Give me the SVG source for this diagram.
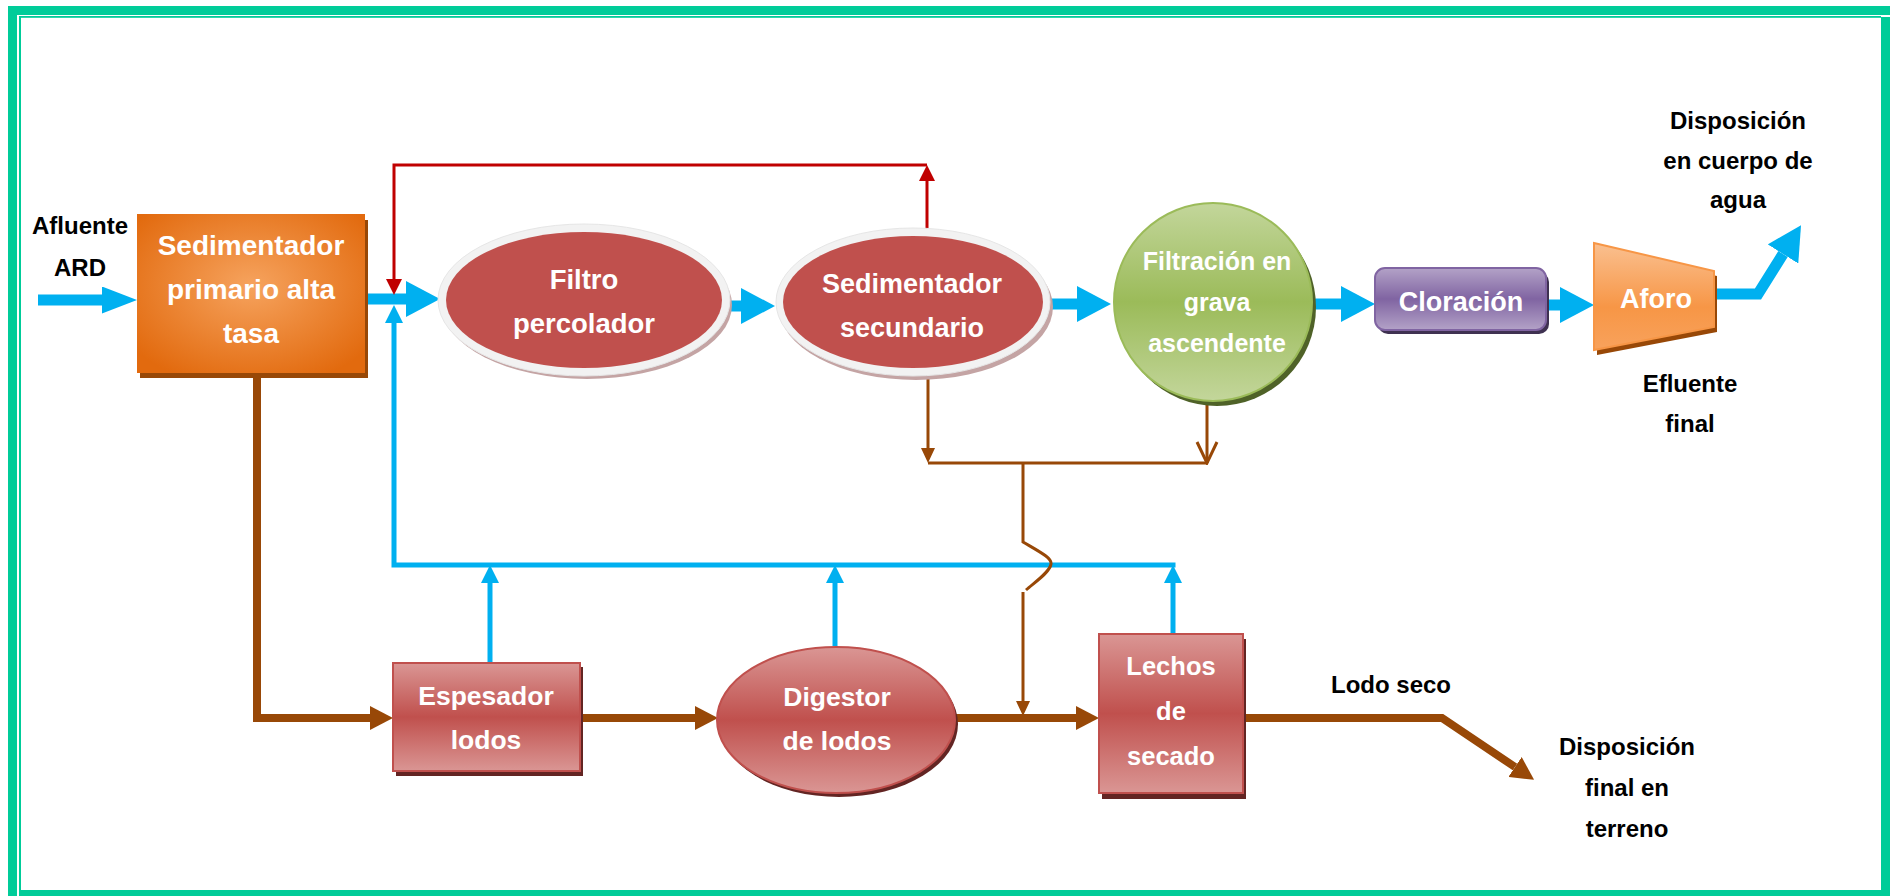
<svg xmlns="http://www.w3.org/2000/svg" width="1890" height="896" viewBox="0 0 1890 896">
<style>
  .w { fill:#FFFFFF; font-family:"Liberation Sans", Arial, sans-serif; font-weight:bold; text-anchor:middle; font-size:27px; }
  .b { fill:#000000; font-family:"Liberation Sans", Arial, sans-serif; font-weight:bold; text-anchor:middle; font-size:24px; }
  .frame { fill:#00CC99; }
  .blue { fill:none; stroke:#00B0F0; stroke-width:11; stroke-linejoin:miter; }
  .blueThin { fill:none; stroke:#00B0F0; stroke-width:5; stroke-linejoin:miter; }
  .red { fill:none; stroke:#C00000; stroke-width:3; stroke-linejoin:miter; }
  .brown { fill:none; stroke:#984807; stroke-width:8; stroke-linejoin:miter; }
  .brownThin { fill:none; stroke:#984807; stroke-width:3; stroke-linejoin:miter; }
  .redbox { fill:url(#gRed); stroke:#C0504D; stroke-width:2; }
  .redshadow { fill:#632523; }
  .rim { fill:#F2F2F2; stroke:#E6E6E6; stroke-width:1; }
  .rimshadow { fill:#C4A4A4; }
  .core { fill:#C0504D; }
</style>
<defs>
  <radialGradient id="gOrange" cx="50%" cy="45%" r="65%">
    <stop offset="0" stop-color="#F6A35E"/>
    <stop offset="1" stop-color="#E26A0E"/>
  </radialGradient>
  <linearGradient id="gRed" x1="0" y1="0" x2="0" y2="1">
    <stop offset="0" stop-color="#DA9694"/>
    <stop offset="0.5" stop-color="#C0504D"/>
    <stop offset="1" stop-color="#DA9694"/>
  </linearGradient>
  <linearGradient id="gPurple" x1="0" y1="0" x2="0" y2="1">
    <stop offset="0" stop-color="#B3A2C7"/>
    <stop offset="0.5" stop-color="#8064A2"/>
    <stop offset="1" stop-color="#B3A2C7"/>
  </linearGradient>
  <linearGradient id="gGreen" x1="0" y1="0" x2="0" y2="1">
    <stop offset="0" stop-color="#C3D69B"/>
    <stop offset="0.5" stop-color="#9BBB59"/>
    <stop offset="1" stop-color="#C3D69B"/>
  </linearGradient>
  <linearGradient id="gAforo" x1="0" y1="0" x2="0" y2="1">
    <stop offset="0" stop-color="#FAC090"/>
    <stop offset="0.6" stop-color="#F79646"/>
    <stop offset="1" stop-color="#F8A25C"/>
  </linearGradient>
  <marker id="mBlue" markerUnits="userSpaceOnUse" markerWidth="34" markerHeight="36" refX="0" refY="18" orient="auto" viewBox="0 0 34 36">
    <path d="M0,0 L34,18 L0,36 z" fill="#00B0F0"/>
  </marker>
  <marker id="mBlueS" markerUnits="userSpaceOnUse" markerWidth="35" markerHeight="27" refX="0" refY="13.5" orient="auto" viewBox="0 0 35 27">
    <path d="M0,0 L35,13.5 L0,27 z" fill="#00B0F0"/>
  </marker>
  <marker id="mBlueUp" markerUnits="userSpaceOnUse" markerWidth="18" markerHeight="18" refX="0" refY="9" orient="auto" viewBox="0 0 18 18">
    <path d="M0,0 L18,9 L0,18 z" fill="#00B0F0"/>
  </marker>
  <marker id="mRed" markerUnits="userSpaceOnUse" markerWidth="16" markerHeight="16" refX="0" refY="8" orient="auto" viewBox="0 0 16 16">
    <path d="M0,0 L16,8 L0,16 z" fill="#C00000"/>
  </marker>
  <marker id="mBrown" markerUnits="userSpaceOnUse" markerWidth="23" markerHeight="24" refX="0" refY="12" orient="auto" viewBox="0 0 23 24">
    <path d="M0,0 L23,12 L0,24 z" fill="#984807"/>
  </marker>
  <marker id="mBrownSm" markerUnits="userSpaceOnUse" markerWidth="15" markerHeight="14" refX="0" refY="7" orient="auto" viewBox="0 0 15 14">
    <path d="M0,0 L15,7 L0,14 z" fill="#984807"/>
  </marker>
  <marker id="mBrownOpen" markerUnits="userSpaceOnUse" markerWidth="24" markerHeight="24" refX="22" refY="12" orient="auto" viewBox="0 0 24 24">
    <path d="M1,2 L22,12 L1,22" fill="none" stroke="#984807" stroke-width="3"/>
  </marker>
</defs>

<rect x="0" y="0" width="1890" height="896" fill="#FFFFFF"/>

<g id="frame">
  <rect class="frame" x="8" y="6" width="1882" height="9"/>
  <rect class="frame" x="19" y="16" width="1862" height="1.8"/>
  <rect class="frame" x="8" y="6" width="9" height="890"/>
  <rect class="frame" x="19" y="16" width="2" height="874"/>
  <rect class="frame" x="1881" y="17" width="9" height="879"/>
  <rect class="frame" x="19" y="890" width="1871" height="6"/>
</g>

<g id="connectors">
  <!-- main blue flow -->
  <path class="blue" d="M38,300 H102" marker-end="url(#mBlueS)"/>
  <path class="blue" d="M365,299 H406" marker-end="url(#mBlue)"/>
  <path class="blue" d="M727,306 H741" marker-end="url(#mBlue)"/>
  <path class="blue" d="M1050,304 H1077" marker-end="url(#mBlue)"/>
  <path class="blue" d="M1314,304 H1341" marker-end="url(#mBlue)"/>
  <path class="blue" d="M1546,305 H1560" marker-end="url(#mBlue)"/>
  <path class="blue" d="M1713,294 H1758 L1783,254" marker-end="url(#mBlue)"/>
  <!-- blue return -->
  <path class="blueThin" d="M1175.5,565 H394 V323" marker-end="url(#mBlueUp)"/>
  <path class="blueThin" d="M490,663 V583" marker-end="url(#mBlueUp)"/>
  <path class="blueThin" d="M835,646 V583" marker-end="url(#mBlueUp)"/>
  <path class="blueThin" d="M1173,634 V583" marker-end="url(#mBlueUp)"/>
  <!-- red recirculation -->
  <path class="red" d="M927,229 V181" marker-end="url(#mRed)"/>
  <path class="red" d="M927,165 H394 V279" marker-end="url(#mRed)"/>
  <!-- brown sludge -->
  <path class="brown" d="M257,376 V718 H370" marker-end="url(#mBrown)"/>
  <path class="brown" d="M583,718 H695" marker-end="url(#mBrown)"/>
  <path class="brown" d="M956,718 H1076" marker-end="url(#mBrown)"/>
  <path class="brown" d="M1246,718 H1442 L1515,767" marker-end="url(#mBrown)"/>
  <!-- thin brown -->
  <path class="brownThin" d="M928,376 V448" marker-end="url(#mBrownSm)"/>
  <path class="brownThin" d="M1207,402 V463" marker-end="url(#mBrownOpen)"/>
  <path class="brownThin" d="M928,463 H1207"/>
  <path class="brownThin" d="M1023,463 V542 C1040,552 1052,558 1051,564 C1050,572 1035,582 1026,590"/>
  <path class="brownThin" d="M1023,592 V701" marker-end="url(#mBrownSm)"/>
</g>

<g id="afluente">
  <text class="b" x="80" y="234">Afluente</text>
  <text class="b" x="80" y="276">ARD</text>
</g>

<g id="sedimentador-primario">
  <rect x="140" y="220" width="228" height="158" fill="#984807"/>
  <rect x="137" y="214" width="228" height="159" fill="url(#gOrange)"/>
  <text class="w" x="251" y="255" style="font-size:28px">Sedimentador</text>
  <text class="w" x="251" y="299" style="font-size:28px">primario alta</text>
  <text class="w" x="251" y="343" style="font-size:28px">tasa</text>
</g>

<g id="filtro-percolador">
  <ellipse class="rimshadow" cx="587" cy="305" rx="145" ry="74"/>
  <ellipse class="rim" cx="584" cy="300" rx="146" ry="76"/>
  <ellipse class="core" cx="584" cy="300" rx="138" ry="68"/>
  <text class="w" x="584" y="289" style="font-size:27.5px">Filtro</text>
  <text class="w" x="584" y="333" style="font-size:27.5px">percolador</text>
</g>

<g id="sedimentador-secundario">
  <ellipse class="rimshadow" cx="916" cy="307" rx="137" ry="73"/>
  <ellipse class="rim" cx="913" cy="302" rx="137" ry="74"/>
  <ellipse class="core" cx="913" cy="302" rx="130" ry="66"/>
  <text class="w" x="912" y="293">Sedimentador</text>
  <text class="w" x="912" y="337">secundario</text>
</g>

<g id="filtracion">
  <circle cx="1217" cy="307" r="99" fill="#4F6228"/>
  <circle cx="1213" cy="302" r="99" fill="url(#gGreen)" stroke="#9BBB59" stroke-width="2"/>
  <text class="w" x="1217" y="270" style="font-size:25px">Filtración en</text>
  <text class="w" x="1217" y="311" style="font-size:25px">grava</text>
  <text class="w" x="1217" y="352" style="font-size:25px">ascendente</text>
</g>

<g id="cloracion">
  <rect x="1378" y="272" width="171" height="62" rx="10" fill="#3F3151"/>
  <rect x="1375" y="268" width="171" height="62" rx="10" fill="url(#gPurple)" stroke="#8064A2" stroke-width="2"/>
  <text class="w" x="1461" y="311">Cloración</text>
</g>

<g id="aforo">
  <polygon points="1597,248 1717,276 1717,332 1597,355" fill="#984807"/>
  <polygon points="1594,243 1714,271 1714,327 1594,350" fill="url(#gAforo)" stroke="#F79646" stroke-width="2"/>
  <text class="w" x="1656" y="308">Aforo</text>
</g>

<g id="disposicion-agua">
  <text class="b" x="1738" y="129">Disposición</text>
  <text class="b" x="1738" y="169">en cuerpo de</text>
  <text class="b" x="1738" y="208">agua</text>
</g>

<g id="efluente-final">
  <text class="b" x="1690" y="392">Efluente</text>
  <text class="b" x="1690" y="432">final</text>
</g>

<g id="espesador">
  <rect class="redshadow" x="396" y="667" width="187" height="109"/>
  <rect class="redbox" x="393" y="663" width="187" height="108"/>
  <text class="w" x="486" y="705" style="font-size:26.5px">Espesador</text>
  <text class="w" x="486" y="749" style="font-size:26.5px">lodos</text>
</g>

<g id="digestor">
  <ellipse class="redshadow" cx="839" cy="724" rx="119" ry="73"/>
  <ellipse class="redbox" cx="836" cy="720" rx="119" ry="73"/>
  <text class="w" x="837" y="706" style="font-size:26.5px">Digestor</text>
  <text class="w" x="837" y="750" style="font-size:26.5px">de lodos</text>
</g>

<g id="lechos">
  <rect class="redshadow" x="1102" y="639" width="144" height="160"/>
  <rect class="redbox" x="1099" y="634" width="144" height="159"/>
  <text class="w" x="1171" y="675" style="font-size:25.5px">Lechos</text>
  <text class="w" x="1171" y="720" style="font-size:25.5px">de</text>
  <text class="w" x="1171" y="765" style="font-size:25.5px">secado</text>
</g>

<g id="lodo-seco">
  <text class="b" x="1391" y="693">Lodo seco</text>
</g>

<g id="disposicion-terreno">
  <text class="b" x="1627" y="755">Disposición</text>
  <text class="b" x="1627" y="796">final en</text>
  <text class="b" x="1627" y="837">terreno</text>
</g>
</svg>
